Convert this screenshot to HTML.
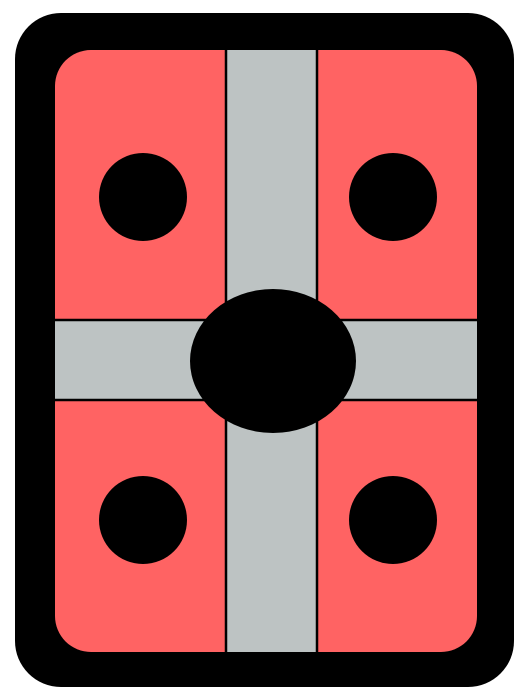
<!DOCTYPE html>
<html>
<head>
<meta charset="utf-8">
<style>
html,body{margin:0;padding:0;background:#fff;width:527px;height:698px;overflow:hidden}
svg{display:block}
</style>
</head>
<body>
<svg width="527" height="698" viewBox="0 0 527 698">
  <defs>
    <clipPath id="inner"><rect x="55" y="50" width="422" height="602" rx="36" ry="36"/></clipPath>
  </defs>
  <rect x="15" y="13" width="499" height="674" rx="46" ry="46" fill="#000"/>
  <g clip-path="url(#inner)">
    <rect x="55" y="50" width="422" height="602" fill="#ff6363"/>
    <rect x="226" y="40" width="91" height="620" fill="#bdc3c3" stroke="#000" stroke-width="2.5"/>
    <rect x="45" y="320" width="440" height="80" fill="#bdc3c3" stroke="#000" stroke-width="2.5"/>
  </g>
  <ellipse cx="273" cy="361" rx="83" ry="72" fill="#000"/>
  <circle cx="143" cy="197" r="44" fill="#000"/>
  <circle cx="393" cy="197" r="44" fill="#000"/>
  <circle cx="143" cy="520" r="44" fill="#000"/>
  <circle cx="393" cy="520" r="44" fill="#000"/>
</svg>
</body>
</html>
